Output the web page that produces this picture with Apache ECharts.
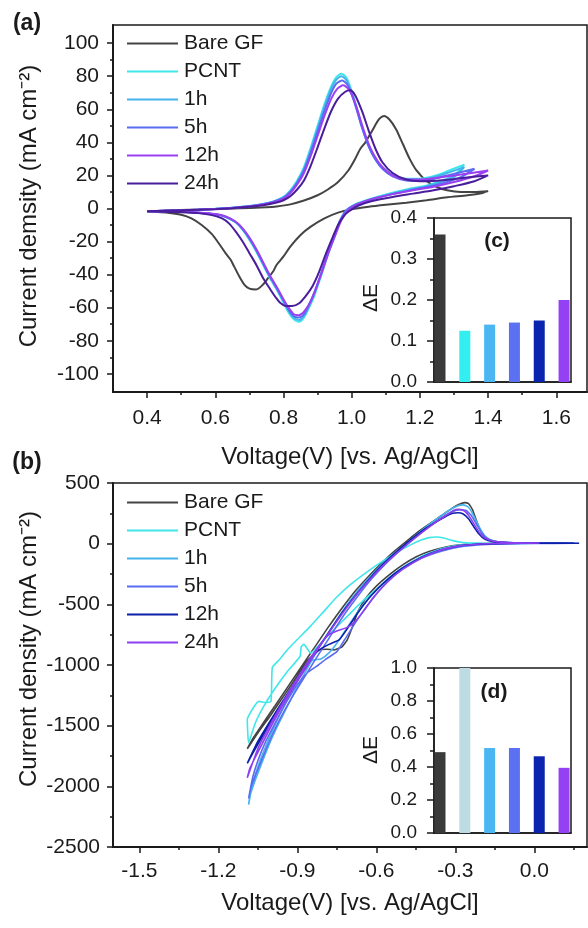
<!DOCTYPE html>
<html>
<head>
<meta charset="utf-8">
<script src="https://cdn.jsdelivr.net/npm/echarts@6/dist/echarts.min.js"></script>
<style>html,body{margin:0;padding:0;background:#fff}#main{width:588px;height:928px}</style>
</head>
<body>
<div id="main"></div>
<script>
// legend names and colours
var names = ['Bare GF', 'PCNT', '1h', '5h', '12h', '24h'];
var colorsA = ['#444444', '#3fe6ea', '#45b3ee', '#5a6cf0', '#9a40f2', '#4a1d9c'];
var colorsB = ['#444444', '#3fe6ea', '#45b3ee', '#5a6cf0', '#0c1fa8', '#8c3ff0'];
var barColorsC = ['#3a3a3a', '#33eef0', '#4cb6f2', '#5c70f2', '#0b24b0', '#9440f5'];
var barColorsD = ['#3a3a3a', '#bcdbe2', '#4cb6f2', '#5c70f2', '#0b24b0', '#9440f5'];

// inset bar values (delta E)
var dEc = [0.36, 0.125, 0.14, 0.145, 0.15, 0.2];
var dEd = [0.49, 1.0, 0.515, 0.515, 0.465, 0.395];

// tick labels
var xTicksA = [0.4, 0.6, 0.8, 1.0, 1.2, 1.4, 1.6];
var xMinorA = [0.5, 0.7, 0.9, 1.1, 1.3, 1.5];
var yTicksA = [-100, -80, -60, -40, -20, 0, 20, 40, 60, 80, 100];
var yMinorA = [-90, -70, -50, -30, -10, 10, 30, 50, 70, 90];
var xTicksB = [-1.5, -1.2, -0.9, -0.6, -0.3, 0.0];
var xMinorB = [-1.35, -1.05, -0.75, -0.45, -0.15, 0.15];

// (a) CV loops, positive electrode
var cvA_bare = [[0.40,-1.8],[0.45,-1.3],[0.50,-0.9],[0.55,-0.6],[0.60,-0.3],[0.65,0],[0.70,0.3],[0.75,0.7],[0.78,1.2],[0.82,2.5],[0.86,4.8],[0.90,8],[0.93,11.5],[0.96,16],[0.99,23],[1.01,30],[1.025,36],[1.04,40],[1.06,47],[1.08,54],[1.095,56],[1.11,54],[1.13,48],[1.15,39],[1.17,30],[1.19,23],[1.22,16.5],[1.25,13],[1.28,11],[1.32,10],[1.36,10],[1.40,10.5],
  [1.38,9.2],[1.34,8],[1.28,6.8],[1.22,5],[1.16,3.5],[1.10,2.2],[1.05,1],[1.00,-0.5],[0.96,-2.5],[0.92,-6],[0.88,-11],[0.85,-16],[0.82,-23],[0.80,-29],[0.78,-34],[0.77,-38],[0.755,-42],[0.74,-46],[0.72,-49],[0.70,-48.5],[0.685,-46],[0.67,-41],[0.655,-35],[0.645,-31],[0.63,-27],[0.61,-21],[0.59,-15.5],[0.56,-10],[0.53,-6],[0.50,-3.8],[0.46,-2.5],[0.42,-2],[0.40,-1.8]];
var cvA_pcnt = [[0.40,-1.6],[0.45,-1.4],[0.50,-1.1],[0.55,-0.7],[0.60,-0.2],[0.65,0.5],[0.70,1.5],[0.74,2.8],[0.77,4.3],[0.80,7],[0.82,11],[0.84,17],[0.86,25],[0.88,37],[0.90,50],[0.92,63],[0.94,74],[0.955,79.5],[0.97,81.5],[0.985,79],[1.00,71],[1.015,61],[1.03,50],[1.05,38],[1.07,30],[1.09,25],[1.12,20.5],[1.16,18],[1.20,18],[1.24,19.5],[1.28,22.5],[1.33,26.5],
  [1.30,20],[1.26,16.5],[1.22,14],[1.16,11.5],[1.10,8.5],[1.05,5.5],[1.01,2.5],[0.985,-1],[0.965,-8],[0.95,-17],[0.93,-28],[0.91,-41],[0.89,-53],[0.875,-60],[0.86,-66],[0.845,-68.5],[0.83,-67],[0.815,-63],[0.80,-57],[0.78,-49],[0.76,-42],[0.74,-34],[0.72,-26],[0.70,-19],[0.68,-13],[0.66,-8.5],[0.63,-5],[0.60,-3.5],[0.55,-2.5],[0.50,-2],[0.45,-1.8],[0.40,-1.6]];
var cvA_1h = [[0.40,-1.6],[0.45,-1.4],[0.50,-1.1],[0.55,-0.7],[0.60,-0.2],[0.65,0.5],[0.70,1.4],[0.74,2.7],[0.77,4.1],[0.80,6.7],[0.82,10.5],[0.84,16],[0.86,24],[0.88,35.5],[0.90,48.5],[0.92,61.5],[0.94,72.5],[0.955,78],[0.97,80],[0.985,77.5],[1.00,70],[1.015,60],[1.03,49.5],[1.05,37.5],[1.07,29.5],[1.09,24.5],[1.12,20],[1.16,17.5],[1.20,17.5],[1.24,19],[1.28,21.5],[1.33,25],
  [1.30,19],[1.26,16],[1.22,13.5],[1.16,11],[1.10,8],[1.05,5.2],[1.01,2.3],[0.985,-1],[0.965,-8],[0.95,-16.5],[0.93,-27.5],[0.91,-40],[0.89,-52],[0.875,-59],[0.86,-65],[0.845,-67.5],[0.83,-66],[0.815,-62],[0.80,-56],[0.78,-48.5],[0.76,-41.5],[0.74,-33.5],[0.72,-25.5],[0.70,-18.5],[0.68,-12.5],[0.66,-8.3],[0.63,-5],[0.60,-3.5],[0.55,-2.5],[0.50,-2],[0.45,-1.8],[0.40,-1.6]];
var cvA_5h = [[0.40,-1.7],[0.45,-1.4],[0.50,-1.1],[0.55,-0.7],[0.60,-0.3],[0.65,0.4],[0.70,1.3],[0.74,2.6],[0.77,4],[0.80,6.4],[0.82,10],[0.84,15.5],[0.86,23],[0.88,34],[0.90,46.5],[0.92,59],[0.94,70],[0.955,75.5],[0.972,77.5],[0.987,75],[1.00,69],[1.015,59.5],[1.03,49],[1.05,37.5],[1.07,29.5],[1.09,24],[1.12,19.5],[1.16,17],[1.20,16.8],[1.24,18],[1.29,20.5],[1.36,24],
  [1.32,19],[1.27,15.5],[1.22,13],[1.16,10.5],[1.10,7.8],[1.05,5],[1.01,2.2],[0.985,-1],[0.965,-7.5],[0.95,-16],[0.93,-27],[0.91,-39.5],[0.89,-51],[0.875,-58],[0.86,-64],[0.845,-66],[0.83,-65],[0.815,-61],[0.80,-55.5],[0.78,-48],[0.76,-41],[0.74,-33],[0.72,-25],[0.70,-18],[0.68,-12.3],[0.66,-8.2],[0.63,-5],[0.60,-3.5],[0.55,-2.5],[0.50,-2],[0.45,-1.8],[0.40,-1.7]];
var cvA_12h = [[0.40,-1.7],[0.45,-1.4],[0.50,-1.1],[0.55,-0.7],[0.60,-0.3],[0.65,0.3],[0.70,1.2],[0.74,2.4],[0.77,3.8],[0.80,6],[0.82,9.3],[0.84,14.5],[0.86,21.5],[0.88,32],[0.90,44],[0.92,56],[0.94,66.5],[0.958,72.5],[0.975,74.5],[0.99,72.5],[1.005,66.5],[1.02,57.5],[1.035,47.5],[1.055,36.5],[1.075,29],[1.095,24],[1.12,20],[1.16,17.5],[1.20,17.5],[1.25,18.5],[1.32,20.5],[1.40,23],
  [1.36,19.5],[1.30,16],[1.24,13.2],[1.18,11],[1.12,8.7],[1.06,5.8],[1.02,2.8],[0.99,-1],[0.97,-7],[0.955,-14.5],[0.935,-25],[0.915,-37],[0.895,-48.5],[0.88,-56],[0.862,-62],[0.845,-64.5],[0.83,-64],[0.815,-60],[0.80,-55],[0.78,-47.5],[0.76,-40.5],[0.74,-32.5],[0.72,-24.5],[0.70,-17.5],[0.68,-12],[0.66,-8],[0.63,-4.8],[0.60,-3.3],[0.55,-2.4],[0.50,-2],[0.45,-1.8],[0.40,-1.7]];
var cvA_24h = [[0.40,-1.7],[0.45,-1.4],[0.50,-1.1],[0.55,-0.8],[0.60,-0.4],[0.65,0.2],[0.70,1],[0.74,2],[0.78,3.6],[0.80,5],[0.82,7.5],[0.84,11.5],[0.86,17],[0.88,26],[0.90,37],[0.92,48.5],[0.94,59],[0.96,66.5],[0.98,70.5],[0.995,71.5],[1.01,68.5],[1.03,59],[1.05,47],[1.07,36],[1.09,28],[1.12,21.5],[1.16,17.5],[1.20,16.5],[1.25,16.8],[1.30,17.8],[1.35,19],[1.40,20],
  [1.36,16.5],[1.30,13.5],[1.24,11],[1.18,9],[1.12,7],[1.06,4.5],[1.02,1.8],[0.99,-2],[0.975,-5],[0.96,-10],[0.945,-17],[0.925,-27],[0.905,-38],[0.885,-47],[0.865,-53],[0.845,-57.5],[0.825,-59],[0.808,-59],[0.79,-57],[0.778,-54],[0.76,-48.5],[0.74,-42],[0.72,-34],[0.70,-27],[0.68,-20],[0.66,-14],[0.64,-9],[0.62,-6],[0.59,-4],[0.55,-2.8],[0.50,-2.2],[0.45,-1.9],[0.40,-1.7]];

// (b) CV loops, negative electrode
var cvB_bare = [[0.15,5],[0.05,5],[-0.05,4],[-0.15,2],[-0.22,-2],[-0.28,-10],[-0.34,-30],[-0.40,-65],[-0.45,-110],[-0.50,-175],[-0.55,-255],[-0.60,-350],[-0.64,-450],[-0.67,-560],[-0.69,-680],[-0.71,-790],[-0.73,-850],[-0.76,-875],[-0.79,-870],[-0.82,-880],[-0.86,-960],[-0.90,-1090],[-0.95,-1250],[-1.00,-1410],[-1.05,-1560],[-1.09,-1690],
  [-1.07,-1610],[-1.03,-1480],[-0.98,-1320],[-0.93,-1160],[-0.88,-1000],[-0.83,-840],[-0.78,-680],[-0.73,-530],[-0.68,-390],[-0.63,-270],[-0.58,-160],[-0.53,-60],[-0.48,30],[-0.43,115],[-0.38,190],[-0.34,250],[-0.31,295],[-0.285,325],[-0.265,338],[-0.25,330],[-0.235,280],[-0.22,190],[-0.205,110],[-0.19,60],[-0.17,30],[-0.14,15],[-0.08,8],[0.05,6],[0.15,5]];
var cvB_pcnt = [[0.15,3],[0.0,3],[-0.1,2],[-0.2,0],[-0.28,-12],[-0.35,-40],[-0.42,-95],[-0.50,-200],[-0.58,-340],[-0.65,-470],[-0.72,-620],[-0.79,-770],[-0.85,-900],[-0.875,-830],[-0.885,-850],[-0.89,-930],[-0.94,-1060],[-0.99,-1210],[-1.03,-1350],[-1.06,-1480],[-1.085,-1640],
  [-1.09,-1450],[-1.085,-1420],[-1.06,-1330],[-1.045,-1300],[-1.02,-1310],[-1.0,-1300],[-0.995,-1020],[-0.97,-960],[-0.94,-880],[-0.9,-790],[-0.85,-680],[-0.8,-560],[-0.75,-440],[-0.7,-340],[-0.64,-240],[-0.58,-150],[-0.52,-70],[-0.47,-10],[-0.43,30],[-0.40,50],[-0.37,55],[-0.34,45],[-0.31,25],[-0.27,10],[-0.2,5],[0.0,3],[0.15,3]];
var cvB_1h = [[0.15,3],[0.0,3],[-0.1,1],[-0.2,-3],[-0.28,-15],[-0.35,-45],[-0.42,-100],[-0.48,-170],[-0.54,-260],[-0.60,-380],[-0.66,-530],[-0.71,-690],[-0.75,-820],[-0.78,-900],[-0.81,-950],[-0.84,-960],[-0.87,-1020],[-0.9,-1130],[-0.93,-1250],[-0.96,-1380],[-0.99,-1520],[-1.02,-1670],[-1.05,-1840],[-1.07,-1980],[-1.085,-2150],
  [-1.08,-2080],[-1.06,-1950],[-1.03,-1780],[-1.0,-1620],[-0.97,-1480],[-0.94,-1350],[-0.91,-1220],[-0.88,-1100],[-0.85,-980],[-0.81,-830],[-0.76,-660],[-0.71,-500],[-0.66,-360],[-0.61,-240],[-0.56,-130],[-0.51,-40],[-0.46,50],[-0.41,140],[-0.36,220],[-0.32,280],[-0.29,312],[-0.27,320],[-0.25,300],[-0.23,230],[-0.21,140],[-0.19,70],[-0.17,35],[-0.14,15],[-0.08,8],[0.05,5],[0.15,4]];
var cvB_5h = [[0.15,3],[0.0,2],[-0.1,0],[-0.2,-8],[-0.28,-25],[-0.35,-60],[-0.43,-120],[-0.50,-210],[-0.56,-320],[-0.62,-470],[-0.67,-620],[-0.72,-790],[-0.75,-890],[-0.79,-950],[-0.82,-1000],[-0.86,-1060],[-0.9,-1160],[-0.94,-1300],[-0.98,-1460],[-1.02,-1630],[-1.05,-1790],[-1.07,-1930],[-1.085,-2100],
  [-1.075,-2000],[-1.05,-1860],[-1.02,-1700],[-0.99,-1550],[-0.95,-1380],[-0.91,-1230],[-0.87,-1090],[-0.83,-950],[-0.78,-780],[-0.73,-610],[-0.68,-460],[-0.63,-320],[-0.58,-200],[-0.53,-95],[-0.48,0],[-0.43,90],[-0.38,170],[-0.34,230],[-0.31,265],[-0.285,280],[-0.26,275],[-0.24,235],[-0.22,160],[-0.2,90],[-0.18,45],[-0.15,20],[-0.1,10],[0.05,5],[0.15,4]];
var cvB_12h = [[0.17,4],[0.05,4],[-0.05,3],[-0.15,0],[-0.22,-5],[-0.29,-20],[-0.36,-55],[-0.43,-115],[-0.50,-200],[-0.56,-300],[-0.62,-430],[-0.67,-570],[-0.71,-700],[-0.74,-790],[-0.78,-830],[-0.82,-880],[-0.86,-980],[-0.9,-1110],[-0.95,-1280],[-1.0,-1450],[-1.05,-1630],[-1.09,-1810],
  [-1.07,-1730],[-1.03,-1580],[-0.98,-1400],[-0.93,-1230],[-0.88,-1060],[-0.83,-890],[-0.78,-730],[-0.73,-570],[-0.68,-430],[-0.63,-300],[-0.58,-180],[-0.53,-80],[-0.48,15],[-0.43,100],[-0.38,170],[-0.34,220],[-0.31,250],[-0.29,255],[-0.27,245],[-0.25,205],[-0.23,140],[-0.21,80],[-0.19,40],[-0.16,18],[-0.1,8],[0.05,5],[0.17,4]];
var cvB_24h = [[0.02,5],[-0.05,4],[-0.15,1],[-0.22,-5],[-0.29,-20],[-0.36,-55],[-0.43,-120],[-0.50,-210],[-0.56,-320],[-0.61,-440],[-0.65,-560],[-0.68,-640],[-0.71,-690],[-0.75,-720],[-0.78,-750],[-0.81,-820],[-0.85,-940],[-0.9,-1110],[-0.95,-1290],[-1.0,-1480],[-1.05,-1690],[-1.09,-1930],
  [-1.08,-1850],[-1.05,-1720],[-1.01,-1550],[-0.96,-1350],[-0.91,-1170],[-0.86,-1000],[-0.81,-830],[-0.76,-670],[-0.71,-520],[-0.66,-380],[-0.61,-260],[-0.56,-150],[-0.51,-55],[-0.46,35],[-0.41,120],[-0.37,185],[-0.33,240],[-0.305,275],[-0.29,283],[-0.27,275],[-0.25,235],[-0.23,165],[-0.21,95],[-0.19,50],[-0.16,22],[-0.1,10],[0.02,5]];

var cvA = [cvA_bare, cvA_pcnt, cvA_1h, cvA_5h, cvA_12h, cvA_24h];
var cvB = [cvB_bare, cvB_pcnt, cvB_1h, cvB_5h, cvB_12h, cvB_24h];

var FONT = 'Liberation Sans, Arial, sans-serif';
var INK = '#1a1a1a';
var myChart = echarts.init(document.getElementById('main'), null, {renderer: 'canvas'});

function plain(v) { return String(v); }
function oneDec(v) { return v.toFixed(1); }

function mainX(grid, min, max, ticks, margin) {
    return {
        type: 'value', gridIndex: grid, min: min, max: max, position: 'bottom',
        axisLine: {show: true, onZero: false, lineStyle: {color: INK, width: 2}},
        axisTick: {show: true, customValues: ticks, length: 6, lineStyle: {color: INK, width: 1.5}},
        axisLabel: {show: true, customValues: ticks, margin: margin, color: INK, fontSize: 21, fontFamily: FONT, formatter: oneDec},
        splitLine: {show: false}
    };
}
function minorAxis(grid, min, max, ticks, pos) {
    return {
        type: 'value', gridIndex: grid, min: min, max: max, position: pos,
        axisLine: {show: false, onZero: false},
        axisTick: {show: true, customValues: ticks, length: 3, lineStyle: {color: INK, width: 1.5}},
        axisLabel: {show: false},
        splitLine: {show: false}
    };
}

var series = [];
cvA.forEach(function (d, i) {
    series.push({
        type: 'line', name: names[i], xAxisIndex: 0, yAxisIndex: 0, data: d,
        symbol: 'none', smooth: 0.25, lineStyle: {color: colorsA[i], width: 2}, itemStyle: {color: colorsA[i]}
    });
});
cvB.forEach(function (d, i) {
    series.push({
        type: 'line', name: names[i] + '\u200b', xAxisIndex: 3, yAxisIndex: 3, data: d,
        symbol: 'none', smooth: 0.15, lineStyle: {color: colorsB[i], width: 1.6}, itemStyle: {color: colorsB[i]}
    });
});
series.push({
    type: 'bar', xAxisIndex: 2, yAxisIndex: 2, barWidth: 11,
    data: dEc.map(function (v, i) { return {value: [i + 1, v], itemStyle: {color: barColorsC[i]}}; })
});
series.push({
    type: 'bar', xAxisIndex: 5, yAxisIndex: 4, barWidth: 11,
    data: dEd.map(function (v, i) { return {value: [i + 1, v], itemStyle: {color: barColorsD[i]}}; })
});

function legendFor(top, list) {
    return {
        orient: 'vertical', left: 122, top: top, itemWidth: 51, itemHeight: 14, itemGap: 7,
        icon: 'path://M0,6 L51,6 L51,8 L0,8 Z',
        data: list, selectedMode: false,
        textStyle: {fontSize: 21, fontFamily: FONT, color: INK, padding: [0, 0, 0, 1]}
    };
}

function txt(x, y, s, size, bold, rot) {
    return {
        type: 'text', x: x, y: y, rotation: rot || 0, silent: true,
        style: {text: s, fill: INK, font: (bold ? 'bold ' : '') + size + 'px ' + FONT, align: 'center', verticalAlign: 'middle'}
    };
}

var option = {
    backgroundColor: '#fff',
    animation: false,
    grid: [
        {left: 113, top: 25, width: 474, height: 367, show: true, borderColor: INK, borderWidth: 1.5, outerBoundsMode: 'none'},
        {left: 434, top: 218, width: 137, height: 164, show: true, backgroundColor: '#fff', borderColor: INK, borderWidth: 1.5, outerBoundsMode: 'none'},
        {left: 113, top: 483, width: 474, height: 364, show: true, borderColor: INK, borderWidth: 1.5, outerBoundsMode: 'none'},
        {left: 434, top: 668, width: 137, height: 165, show: true, backgroundColor: '#fff', borderColor: INK, borderWidth: 1.5, outerBoundsMode: 'none'}
    ],
    legend: [
        legendFor(28, names),
        legendFor(487, names.map(function (n) { return n + '\u200b'; }))
    ],
    xAxis: [
        mainX(0, 0.3, 1.69, xTicksA, 16),
        minorAxis(0, 0.3, 1.69, xMinorA, 'bottom'),
        {type: 'value', gridIndex: 1, min: 0.758, max: 6.28, axisLine: {show: true, onZero: false, lineStyle: {color: INK, width: 1.5}},
            axisTick: {show: false}, axisLabel: {show: false}, splitLine: {show: false}},
        mainX(2, -1.6, 0.2, xTicksB, 14),
        minorAxis(2, -1.6, 0.2, xMinorB, 'bottom'),
        {type: 'value', gridIndex: 3, min: 0.758, max: 6.28, axisLine: {show: true, onZero: false, lineStyle: {color: INK, width: 1.5}},
            axisTick: {show: false}, axisLabel: {show: false}, splitLine: {show: false}}
    ],
    yAxis: [
        {type: 'value', gridIndex: 0, min: -111, max: 111, position: 'left',
            axisLine: {show: true, onZero: false, lineStyle: {color: INK, width: 2}},
            axisTick: {show: true, customValues: yTicksA, length: 6, lineStyle: {color: INK, width: 1.5}},
            axisLabel: {show: true, customValues: yTicksA, margin: 14, color: INK, fontSize: 21, fontFamily: FONT, formatter: plain},
            splitLine: {show: false}},
        minorAxis(0, -111, 111, yMinorA, 'left'),
        {type: 'value', gridIndex: 1, min: 0, max: 0.4, interval: 0.1, position: 'left',
            axisLine: {show: true, onZero: false, lineStyle: {color: INK, width: 1.5}},
            axisTick: {show: true, length: 7, lineStyle: {color: INK, width: 1.5}},
            minorTick: {show: true, splitNumber: 2, length: 4, lineStyle: {color: INK, width: 1.5}},
            axisLabel: {margin: 17, color: INK, fontSize: 19, fontFamily: FONT, formatter: oneDec},
            splitLine: {show: false}},
        {type: 'value', gridIndex: 2, min: -2500, max: 500, interval: 500, position: 'left',
            axisLine: {show: true, onZero: false, lineStyle: {color: INK, width: 2}},
            axisTick: {show: true, length: 6, lineStyle: {color: INK, width: 1.5}},
            minorTick: {show: true, splitNumber: 2, length: 3, lineStyle: {color: INK, width: 1.5}},
            axisLabel: {margin: 13, color: INK, fontSize: 21, fontFamily: FONT, formatter: plain},
            splitLine: {show: false}},
        {type: 'value', gridIndex: 3, min: 0, max: 1.0, interval: 0.2, position: 'left',
            axisLine: {show: true, onZero: false, lineStyle: {color: INK, width: 1.5}},
            axisTick: {show: true, length: 7, lineStyle: {color: INK, width: 1.5}},
            minorTick: {show: true, splitNumber: 2, length: 4, lineStyle: {color: INK, width: 1.5}},
            axisLabel: {margin: 17, color: INK, fontSize: 19, fontFamily: FONT, formatter: oneDec},
            splitLine: {show: false}}
    ],
    graphic: [
        txt(27, 24, '(a)', 23, true),
        txt(27, 463, '(b)', 23, true),
        txt(497, 241, '(c)', 21, true),
        txt(494, 692, '(d)', 21, true),
        txt(371, 298, '\u0394E', 21, false, Math.PI / 2),
        txt(371, 750, '\u0394E', 21, false, Math.PI / 2),
        txt(350, 457, 'Voltage(V) [vs. Ag/AgCl]', 24, false),
        txt(350, 903, 'Voltage(V) [vs. Ag/AgCl]', 24, false),
        txt(29, 206, 'Current demsity (mA cm\u207B\u00B2)', 24, false, Math.PI / 2),
        txt(29, 649, 'Current density (mA cm\u207B\u00B2)', 24, false, Math.PI / 2)
    ],
    series: series
};
myChart.setOption(option);
</script>
</body>
</html>
